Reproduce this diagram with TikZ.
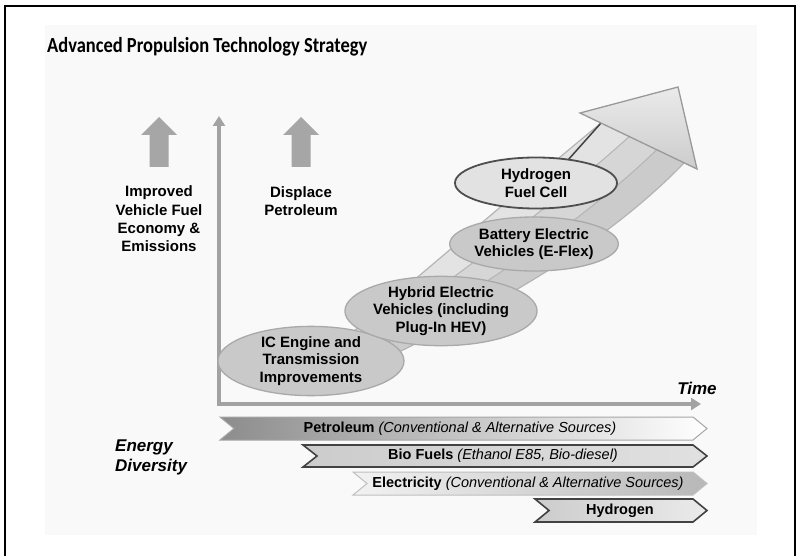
\documentclass[tikz,border=0pt]{standalone}
\usepackage{fontspec}
\setmainfont{Liberation Sans}
\newfontfamily\titlefont{Carlito}
\usetikzlibrary{calc,shapes.geometric,arrows.meta}
\definecolor{uparrow}{HTML}{A6A6A6}
\definecolor{axisgray}{HTML}{A2A2A2}
\definecolor{ellfill}{HTML}{C9C9C9}
\definecolor{ellline}{HTML}{A9A9A9}
\definecolor{hfill}{HTML}{E2E2E2}
\definecolor{hline}{HTML}{4E4E4E}
\definecolor{stripeA}{HTML}{E3E3E3}
\definecolor{stripeB}{HTML}{D6D6D6}
\definecolor{stripeC}{HTML}{CBCBCB}
\definecolor{divline}{HTML}{B4B4B4}
\definecolor{darkedge}{HTML}{424242}
\definecolor{panel}{HTML}{F9F9F9}
\tikzset{
  ell/.style={ellipse, fill=ellfill, draw=ellline, line width=1.3pt, inner sep=0pt, align=center,
    font=\bfseries\fontsize{15}{17.5}\selectfont},
  sidetext/.style={align=center, font=\bfseries\fontsize{15}{18.4}\selectfont},
  bartext/.style={font=\fontsize{14.5}{16}\selectfont, inner sep=0pt},
  axisline/.style={draw=axisgray, line width=4pt, -{Triangle[width=12pt,length=10pt]}},
  uparr/.style={fill=uparrow, draw=none},
}
\begin{document}
\begin{tikzpicture}[x=1pt,y=-1pt]
\path[use as bounding box] (0,0) rectangle (797,556);
\fill[white] (0,0) rectangle (797,556);
% panel and frame
\fill[panel] (45,25) rectangle (757,535);
\draw[black, line width=1.6pt] (5,556) -- (5,6) -- (795,6) -- (795,556);

% title
\node[anchor=west, inner sep=0pt, xscale=0.86] (title) at (47,47)
  {\titlefont\bfseries\fontsize{21.5}{24}\selectfont Advanced Propulsion Technology Strategy};

% up arrows
\fill[uparr] (141,135) -- (159,117) -- (177,135) -- (168.5,135) -- (168.5,167) -- (149.5,167) -- (149.5,135) -- cycle;
\fill[uparr] (283,135) -- (301,117) -- (319,135) -- (310.5,135) -- (310.5,167) -- (291.5,167) -- (291.5,135) -- cycle;

\node[sidetext] (improved) at (159,219) {Improved\\Vehicle Fuel\\Economy \&\\Emissions};
\node[sidetext] (displace) at (301,201) {Displace\\Petroleum};

% axes
\coordinate (origin) at (219,404);
\coordinate (ytop) at (219,116);
\coordinate (xend) at (701,404);
\draw[axisline] ($(origin)+(0,2)$) -- (ytop);
\draw[axisline] ($(origin)+(-2,0)$) -- (xend);
\node[font=\bfseries\itshape\fontsize{17}{20}\selectfont, inner sep=0pt] (time) at (697,388) {Time};

% curved band
\coordinate (U0) at (320,360);
\coordinate (U1) at (420,275);
\coordinate (U2) at (520,190);
\coordinate (U3) at (601,123);
\coordinate (L0) at (340,380);
\coordinate (L1) at (480,315);
\coordinate (L2) at (600,250);
\coordinate (L3) at (684,163);
\foreach \i in {0,1,2,3}{
  \coordinate (A\i) at ($(U\i)!0.34!(L\i)$);
  \coordinate (B\i) at ($(U\i)!0.67!(L\i)$);
}
\fill[stripeA] (U0) .. controls (U1) and (U2) .. (U3) -- (L3) .. controls (L2) and (L1) .. (L0) -- cycle;
\fill[stripeB] (A0) .. controls (A1) and (A2) .. (A3) -- (L3) .. controls (L2) and (L1) .. (L0) -- cycle;
\fill[stripeC] (B0) .. controls (B1) and (B2) .. (B3) -- (L3) .. controls (L2) and (L1) .. (L0) -- cycle;
\draw[divline, line width=1pt] (A0) .. controls (A1) and (A2) .. (A3);
\draw[divline, line width=1pt] (B0) .. controls (B1) and (B2) .. (B3);
\draw[divline, line width=1.2pt] (L0) .. controls (L1) and (L2) .. (L3);
\draw[divline, line width=1.2pt] (U0) .. controls (U1) and (U2) .. (U3);
\coordinate (Utop) at ($(U3)+(-33,37)$);
\draw[darkedge, line width=1.5pt] (Utop) -- (U3);

% arrow head
\coordinate (H1) at (580,113);
\coordinate (H2) at (678,87);
\coordinate (H3) at (697,169);
\shade[top color=white!92!black, bottom color=white!80!black, draw=white!60!black, line width=1.3pt]
  (H1) -- (H2) -- (H3) -- cycle;

% ellipses
\node[ell, minimum width=186pt, minimum height=66pt] (ic) at (311,361) {IC Engine and\\Transmission\\Improvements};
\node[ell, minimum width=182pt, minimum height=64pt] (hev) at (441,311) {Hybrid Electric\\Vehicles (including\\Plug-In HEV)};
\node[ell, minimum width=152pt, minimum height=54pt] (bev) at (534,244) {Battery Electric\\Vehicles (E-Flex)};
\node[ell, fill=hfill, draw=hline, line width=1.8pt, minimum width=162pt, minimum height=51pt] (fc) at (536,183) {Hydrogen\\Fuel Cell};

% energy diversity
\node[anchor=west, align=left, font=\bfseries\itshape\fontsize{17}{20}\selectfont, inner sep=0pt] (energy) at (115,457) {Energy\\Diversity};

% chevrons
\shade[left color=white!55!black, right color=white, draw=white!65!black, line width=1pt]
  (220,417) -- (693,417) -- (707,428.5) -- (693,440) -- (220,440) -- (234,428.5) -- cycle;
\shade[left color=white!80!black, right color=white!88!black, draw=darkedge, line width=1.6pt]
  (303,445) -- (693,445) -- (707,456) -- (693,467) -- (303,467) -- (317,456) -- cycle;
\shade[left color=white!95!black, right color=white!72!black, draw=white!75!black, line width=1pt]
  (353,472) -- (693,472) -- (707,483.5) -- (693,495) -- (353,495) -- (367,483.5) -- cycle;
\shade[left color=white!80!black, right color=white!92!black, draw=darkedge, line width=1.6pt]
  (535,499) -- (693,499) -- (707,510.5) -- (693,522) -- (535,522) -- (549,510.5) -- cycle;

\node[bartext] (petro) at (460,428.5) {\textbf{Petroleum} \textit{(Conventional \& Alternative Sources)}};
\node[bartext] (bio) at (503,456) {\textbf{Bio Fuels} \textit{(Ethanol E85, Bio-diesel)}};
\node[bartext] (elec) at (528,483.5) {\textbf{Electricity} \textit{(Conventional \& Alternative Sources)}};
\node[bartext] (hyd) at (620,510.5) {\textbf{Hydrogen}};
\end{tikzpicture}
\end{document}
